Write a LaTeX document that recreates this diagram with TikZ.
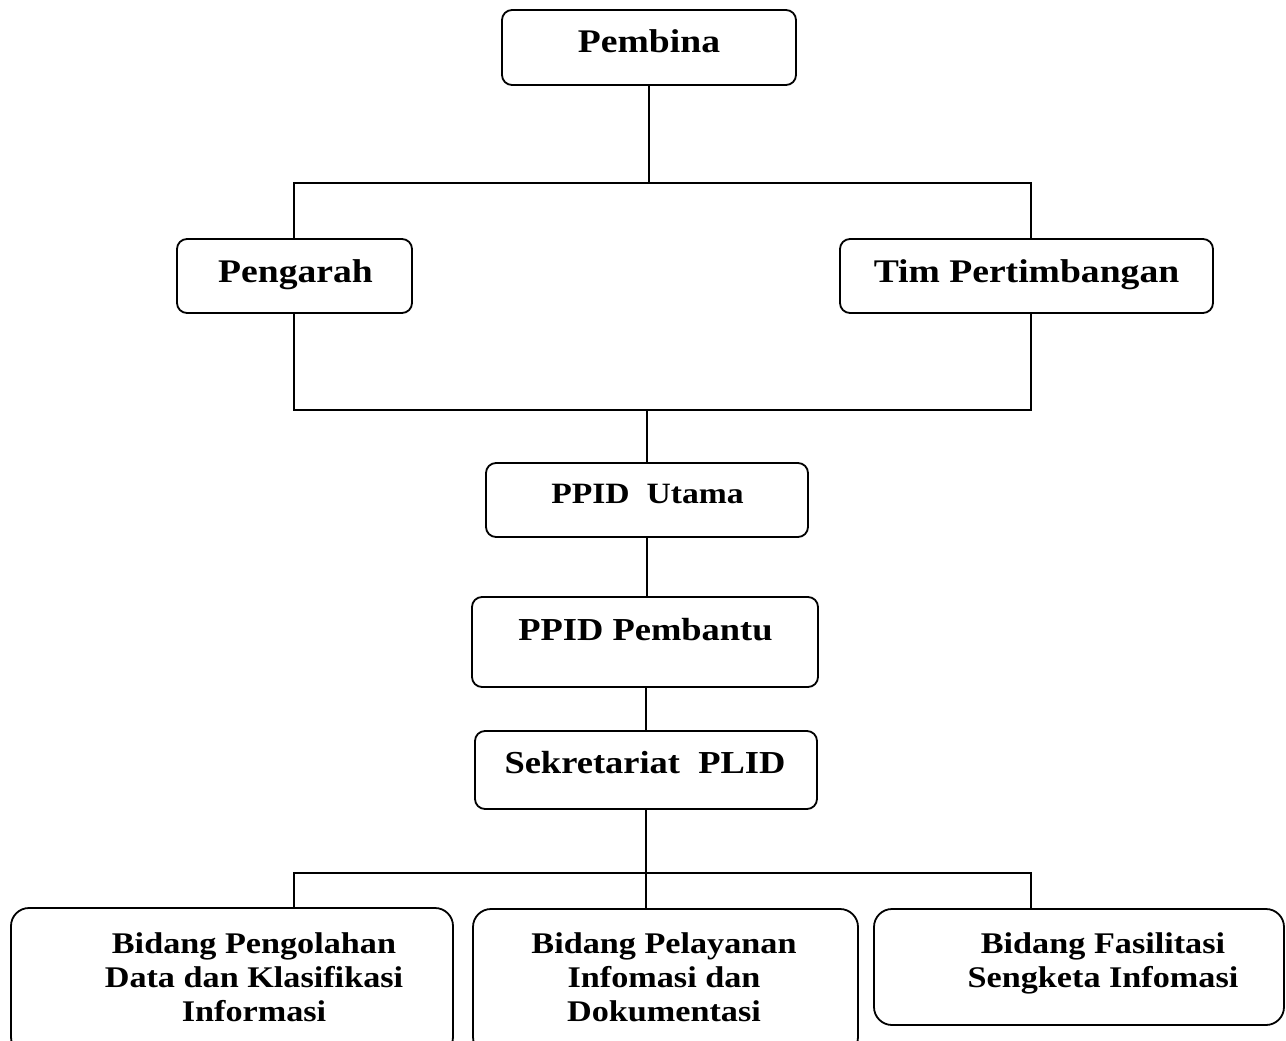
\documentclass[tikz,border=0pt]{standalone}
\usepackage{fontspec}
\setmainfont{Liberation Serif}[FakeStretch=1.14]
\begin{document}
\begin{tikzpicture}[x=1pt,y=-1pt,
  box/.style={draw=black,line width=1.8pt,rounded corners=10pt,rectangle,inner sep=0pt},
  bigbox/.style={box,rounded corners=18pt},
  conn/.style={draw=black,line width=1.4pt},
  txt/.style={inner sep=0pt,font=\bfseries\fontsize{33}{36}\selectfont},
  midtxt/.style={inner sep=0pt,font=\bfseries\fontsize{32}{36}\selectfont},
  smalltxt/.style={inner sep=0pt,font=\bfseries\fontsize{30}{34}\selectfont},
  multitxt/.style={inner sep=0pt,align=center,anchor=north,font=\bfseries\fontsize{30}{34}\selectfont}]
\useasboundingbox (0,0) rectangle (1286,1041);
\fill[white] (0,0) rectangle (1286,1041);
% boxes
\node[box,minimum width=294pt,minimum height=75pt] (pembina) at (649,47.5) {};
\node[box,minimum width=235pt,minimum height=74pt] (pengarah) at (294.5,276) {};
\node[box,minimum width=373pt,minimum height=74pt] (tim) at (1026.5,276) {};
\node[box,minimum width=322pt,minimum height=74pt] (utama) at (647,500) {};
\node[box,minimum width=346pt,minimum height=90pt] (pembantu) at (645,642) {};
\node[box,minimum width=342pt,minimum height=78pt] (sekre) at (646,770) {};
\node[bigbox,minimum width=442pt,minimum height=147pt] (b1) at (232,981.5) {};
\node[bigbox,minimum width=385pt,minimum height=146pt] (b2) at (665.5,982) {};
\node[bigbox,minimum width=410pt,minimum height=116pt] (b3) at (1079,967) {};
% texts
\node[txt,anchor=base] (tpembina) at (649,53) {Pembina};
\node[txt,anchor=base] (tpengarah) at (295.5,282) {Pengarah};
\node[txt,anchor=base] (ttim) at (1026.5,282) {Tim Pertimbangan};
\node[smalltxt,anchor=base,font=\bfseries\fontsize{29.5}{34}\selectfont] (tutama) at (647.5,503) {PPID\ \ Utama};
\node[midtxt,anchor=base] (tpembantu) at (645.5,640) {PPID Pembantu};
\node[midtxt,anchor=base] (tsekre) at (645,773) {Sekretariat\ \ PLID};
\node[multitxt] (tb1) at (254,932.5) {Bidang Pengolahan\\Data dan Klasifikasi\\Informasi};
\node[multitxt] (tb2) at (664,932.5) {Bidang Pelayanan\\Infomasi dan\\Dokumentasi};
\node[multitxt] (tb3) at (1103,932.5) {Bidang Fasilitasi\\Sengketa Infomasi};
% junction coordinates
\coordinate (jTL) at (294,183);
\coordinate (jTR) at (1031,183);
\coordinate (jML) at (294,410);
\coordinate (jMR) at (1031,410);
\coordinate (jBL) at (294,873);
\coordinate (jBR) at (1031,873);
% connectors
\draw[conn] (pembina.south) -- (pembina.south |- jTL);
\draw[conn] (jTL |- pengarah.north) -- (jTL) -- (jTR) -- (jTR |- tim.north);
\draw[conn] (jML |- pengarah.south) -- (jML) -- (jMR) -- (jMR |- tim.south);
\draw[conn] (utama.north |- jML) -- (utama.north);
\draw[conn] (utama.south) -- (pembantu.north -| utama.south);
\draw[conn] (pembantu.south -| sekre.north) -- (sekre.north);
\draw[conn] (sekre.south) -- (sekre.south |- jBL);
\draw[conn] (jBL |- b1.north) -- (jBL) -- (jBR) -- (jBR |- b3.north);
\draw[conn] (b2.north -| sekre.south) -- (sekre.south |- jBL);
\end{tikzpicture}
\end{document}
